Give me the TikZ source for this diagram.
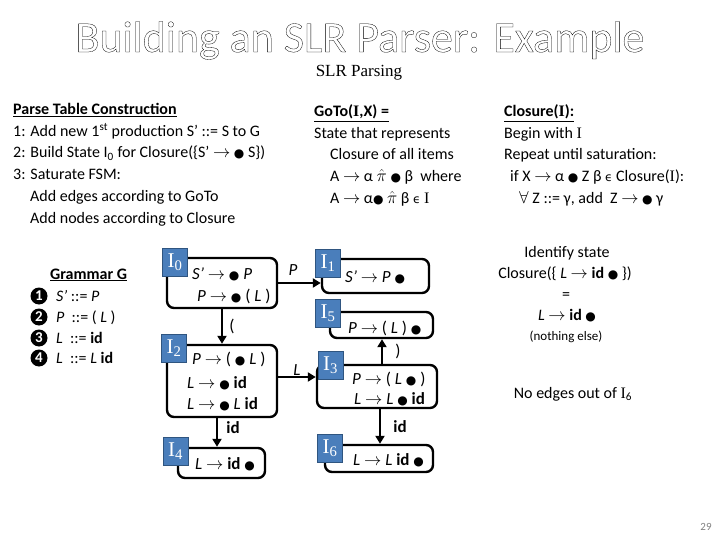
\documentclass[tikz,border=0pt]{standalone}
\usepackage{fontspec}
\setmainfont{Carlito}
\newfontfamily\serif{Liberation Serif}
\newfontfamily\sym{DejaVu Sans}
\usetikzlibrary{arrows.meta}
\definecolor{labblue}{HTML}{4A7EBB}
\definecolor{labedge}{HTML}{2F5580}
\newcommand\rar{$\rightarrow$}
\newcommand\bul{{\sym\fontsize{12}{12}\selectfont ●}}
\newcommand\Iser{{\serif I}}
\newcommand\mvar[1]{\textit{#1}}
\newcommand\outlinetext[1]{\special{pdf:code 1 Tr 0.3 w}#1\special{pdf:code 0 Tr}}
\begin{document}
\begin{tikzpicture}[x=1pt,y=-1pt,
  statebox/.style={draw,line width=2.4pt,rounded corners=7pt,inner sep=0pt},
  lab/.style={fill=labblue,draw=labedge,line width=0.8pt,minimum width=25pt,minimum height=28pt,inner sep=0pt,text=white,font=\serif\fontsize{21}{21}\selectfont},
  itm/.style={anchor=base west,inner sep=0pt,font=\fontsize{17}{20}\selectfont},
  txt/.style={anchor=base west,inner sep=0pt,font=\fontsize{16}{19}\selectfont},
  ctxt/.style={anchor=base,inner sep=0pt,font=\fontsize{16}{19}\selectfont},
  elab/.style={inner sep=0pt,font=\fontsize{17}{20}\selectfont},
  numc/.style={circle,fill=black,inner sep=0pt,minimum size=17pt,text=white,font=\bfseries\fontsize{15}{15}\selectfont},
  arr/.style={line width=2.2pt,-{Triangle[length=8pt,width=9pt]}}]
\useasboundingbox (0,0) rectangle (720,540);
% title
\node[anchor=base,inner sep=0pt,font=\fontsize{44}{48}\selectfont] (title) at (360,52)
  {\outlinetext{Building an SLR Parser: Example}};
\node[anchor=base,inner sep=0pt,font=\serif\fontsize{17}{20}\selectfont] (sub) at (359,77) {SLR Parsing};
% left block
\node[txt] (t1) at (13,115) {\textbf{\underline{Parse Table Construction}}};
\node[txt] (t2) at (13,137) {1: Add new 1\textsuperscript{st} production S’ ::= S to G};
\node[txt] (t3) at (13,158) {2: Build State I\textsubscript{0} for Closure(\{S’ \rar{} \bul{} S\})};
\node[txt] (t4) at (13,180) {3: Saturate FSM:};
\node[txt] (t5) at (30,202) {Add edges according to GoTo};
\node[txt] (t6) at (30,223) {Add nodes according to Closure};
% goto block
\node[txt] (g1) at (314,117) {\textbf{\underline{GoTo(\Iser,X) =}}};
\node[txt] (g2) at (314,139) {State that represents};
\node[txt] (g3) at (330,160) {Closure of all items};
\node[txt] (g4) at (330,182) {A \rar{} α $\hat{\pi}$ \bul{} β \ where};
\node[txt] (g5) at (330,204) {A \rar{} α\bul{} $\hat{\pi}$ β {\sym\fontsize{12}{12}\selectfont ϵ} \Iser};
% closure block
\node[txt] (c1) at (504,117) {\textbf{\underline{Closure(\Iser):}}};
\node[txt] (c2) at (504,139) {Begin with \Iser};
\node[txt] (c3) at (504,160) {Repeat until saturation:};
\node[txt] (c4) at (510,182) {if X \rar{} α \bul{} Z β {\sym\fontsize{12}{12}\selectfont ϵ} Closure(\Iser):};
\node[txt] (c5) at (519,204) {$\forall$ Z ::= γ, add \ Z \rar{} \bul{} γ};
% grammar
\node[txt] (gr) at (50,279) {\textbf{\underline{Grammar G}}};
\node[numc] (n1) at (39,296) {1};
\node[numc] (n2) at (39,317) {2};
\node[numc] (n3) at (39,338) {3};
\node[numc] (n4) at (39,358) {4};
\node[txt] (gl1) at (56,301) {\mvar{S’} ::= \mvar{P}};
\node[txt] (gl2) at (56,322) {\mvar{P} \ ::= ( \mvar{L} )};
\node[txt] (gl3) at (56,343) {\mvar{L} \ ::= \textbf{id}};
\node[txt] (gl4) at (56,363) {\mvar{L} \ ::= \mvar{L} \textbf{id}};
% state boxes
\node[statebox,minimum width=110pt,minimum height=50pt] (S0) at (222,283) {};
\node[statebox,minimum width=107pt,minimum height=34pt] (S1) at (375.5,276) {};
\node[statebox,minimum width=110pt,minimum height=72pt] (S2) at (222,381) {};
\node[statebox,minimum width=120pt,minimum height=43pt] (S3) at (377,386.5) {};
\node[statebox,minimum width=87pt,minimum height=30pt] (S4) at (221.5,463) {};
\node[statebox,minimum width=103pt,minimum height=26pt] (S5) at (381.5,325) {};
\node[statebox,minimum width=108pt,minimum height=27pt] (S6) at (379,458.5) {};
% items
\node[itm] (i0a) at (192,279) {\mvar{S’} \rar{} \bul{} \mvar{P}};
\node[itm] (i0b) at (197,301) {\mvar{P} \rar{} \bul{} ( \mvar{L} )};
\node[itm] (i1a) at (345,282) {\mvar{S’} \rar{} \mvar{P} \bul};
\node[itm] (i2a) at (192,364) {\mvar{P} \rar{} ( \bul{} \mvar{L} )};
\node[itm] (i2b) at (187,388) {\mvar{L} \rar{} \bul{} \textbf{id}};
\node[itm] (i2c) at (187,409) {\mvar{L} \rar{} \bul{} \mvar{L} \textbf{id}};
\node[itm] (i3a) at (352,384) {\mvar{P} \rar{} ( \mvar{L} \bul{} )};
\node[itm] (i3b) at (354,404) {\mvar{L} \rar{} \mvar{L} \bul{} \textbf{id}};
\node[itm] (i4a) at (195,469) {\mvar{L} \rar{} \textbf{id} \bul};
\node[itm] (i5a) at (348,333) {\mvar{P} \rar{} ( \mvar{L} ) \bul};
\node[itm] (i6a) at (353,465) {\mvar{L} \rar{} \mvar{L} \textbf{id} \bul};
% labels
\node[lab] (L0) at (175,262) {I\textsubscript{0}};
\node[lab] (L1) at (328,263) {I\textsubscript{1}};
\node[lab] (L2) at (174,348.5) {I\textsubscript{2}};
\node[lab] (L3) at (330.5,365) {I\textsubscript{3}};
\node[lab] (L4) at (175.5,451) {I\textsubscript{4}};
\node[lab] (L5) at (328,313.5) {I\textsubscript{5}};
\node[lab] (L6) at (330,448.5) {I\textsubscript{6}};
% edges
\draw[arr] (S0.east) -- (S0.east -| S1.west);
\draw[arr] (S0.south) -- (S0.south |- S2.north);
\draw[arr] ([yshift=4pt]S2.east) -- ([yshift=4pt]S2.east -| S3.west);
\draw[arr] ([xshift=-5pt]S2.south) -- ([xshift=-5pt]S2.south |- S4.north);
\draw[arr] ([xshift=5pt]S3.north) -- ([xshift=5pt]S3.north |- S5.south);
\draw[arr] ([xshift=3pt]S3.south) -- ([xshift=3pt]S3.south |- S6.north);
\node[elab] (e01) at (293,270) {\mvar{P}};
\node[elab] (e02) at (232,326) {(};
\node[elab] (e23) at (297,370) {\mvar{L}};
\node[elab] (e24) at (233,428) {\textbf{id}};
\node[elab] (e35) at (398,351) {)};
\node[elab] (e36) at (400,427) {\textbf{id}};
% right block
\node[ctxt] (r1) at (567,257) {Identify state};
\node[ctxt] (r2) at (565,278) {Closure(\{ \mvar{L} \rar{} \textbf{id} \bul{} \})};
\node[ctxt] (r3) at (566,299) {=};
\node[ctxt] (r4) at (567,320) {\mvar{L} \rar{} \textbf{id} \bul};
\node[ctxt,font=\fontsize{13}{15}\selectfont] (r5) at (566,340) {(nothing else)};
\node[ctxt] (r6) at (573,398) {No edges out of \Iser\textsubscript{6}};
\node[anchor=base,inner sep=0pt,text=gray,font=\fontsize{11}{12}\selectfont] (pg) at (706,530) {29};
\end{tikzpicture}
\end{document}
